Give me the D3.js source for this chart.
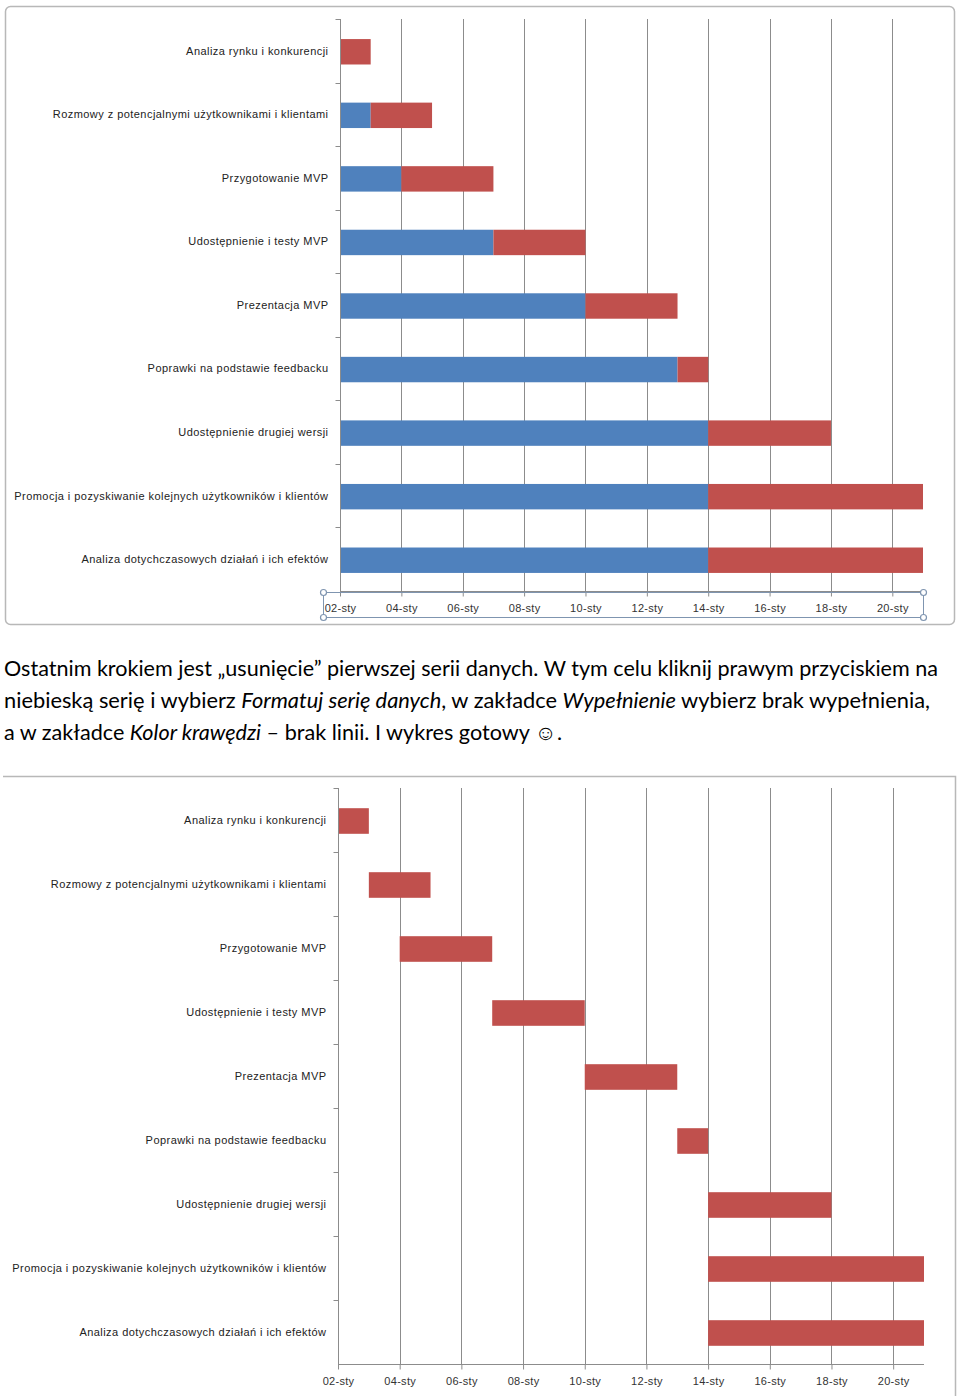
<!DOCTYPE html>
<html>
<head>
<meta charset="utf-8">
<script src="https://cdn.jsdelivr.net/npm/d3@7"></script>
<style>
  html, body { margin: 0; padding: 0; background: #fff; }
  svg { display: block; }
</style>
</head>
<body>
<svg id="page" width="960" height="1396"></svg>
<script>
// ---------------- DATA ----------------
const tasks = [
  "Analiza rynku i konkurencji",
  "Rozmowy z potencjalnymi użytkownikami i klientami",
  "Przygotowanie MVP",
  "Udostępnienie i testy MVP",
  "Prezentacja MVP",
  "Poprawki na podstawie feedbacku",
  "Udostępnienie drugiej wersji",
  "Promocja i pozyskiwanie kolejnych użytkowników i klientów",
  "Analiza dotychczasowych działań i ich efektów"
];
const startDates = ["2013-01-02","2013-01-03","2013-01-04","2013-01-07","2013-01-10","2013-01-13","2013-01-14","2013-01-14","2013-01-14"];
const durations = [1, 2, 3, 3, 3, 1, 4, 7, 7];
const axisRange = ["2013-01-02", "2013-01-21"];
const tickDates = ["2013-01-02","2013-01-04","2013-01-06","2013-01-08","2013-01-10","2013-01-12","2013-01-14","2013-01-16","2013-01-18","2013-01-20"];
const seriesColors = { start: "#4F81BD", duration: "#C0504D" };

const paragraphLines = [
  [["Ostatnim krokiem jest „usunięcie” pierwszej serii danych. W tym celu kliknij prawym przyciskiem na", false]],
  [["niebieską serię i wybierz ", false], ["Formatuj serię danych", true], [", w zakładce ", false], ["Wypełnienie", true], [" wybierz brak wypełnienia,", false]],
  [["a w zakładce ", false], ["Kolor krawędzi", true], [" – brak linii. I wykres gotowy ☺.", false]]
];
const paragraphWidths = [934, 926, 558];

// ---------------- HELPERS ----------------
const parse = d3.utcParse("%Y-%m-%d");
const pl = d3.timeFormatLocale({
  dateTime: "%A, %e %B %Y, %X", date: "%d.%m.%Y", time: "%H:%M:%S",
  periods: ["AM","PM"],
  days: ["niedziela","poniedziałek","wtorek","środa","czwartek","piątek","sobota"],
  shortDays: ["niedz.","pon.","wt.","śr.","czw.","pt.","sob."],
  months: ["styczeń","luty","marzec","kwiecień","maj","czerwiec","lipiec","sierpień","wrzesień","październik","listopad","grudzień"],
  shortMonths: ["sty","lut","mar","kwi","maj","cze","lip","sie","wrz","paź","lis","gru"]
});
const fmt = pl.utcFormat("%d-%b");

const rows = tasks.map((t, i) => {
  const s = parse(startDates[i]);
  return { task: t, origin: parse(axisRange[0]), start: s, end: d3.utcDay.offset(s, durations[i]) };
});

const svg = d3.select("#page");
const FONT = "'Liberation Sans', Arial, sans-serif";

function drawChart(opts) {
  const g = svg.append("g");
  const x = d3.scaleUtc().domain(axisRange.map(parse)).range([opts.x0, opts.x1]);
  const y = d3.scaleBand().domain(tasks).range([opts.y0, opts.y1]).paddingInner(0.6).paddingOuter(0.3);
  const yb = d3.scaleBand().domain(tasks).range([opts.y0, opts.y1]);

  // gridlines
  g.append("g").selectAll("line").data(tickDates.map(parse).slice(1)).join("line")
    .attr("x1", d => Math.round(x(d)) + 0.5).attr("x2", d => Math.round(x(d)) + 0.5)
    .attr("y1", opts.y0).attr("y2", opts.y1)
    .attr("stroke", "#8c8c8c").attr("stroke-width", 1);

  // bars
  if (opts.showStart) {
    g.append("g").selectAll("rect").data(rows).join("rect")
      .attr("x", d => x(d.origin)).attr("width", d => x(d.start) - x(d.origin))
      .attr("y", d => y(d.task) + 1).attr("height", y.bandwidth())
      .attr("fill", seriesColors.start);
  }
  g.append("g").selectAll("rect").data(rows).join("rect")
    .attr("x", d => x(d.start)).attr("width", d => x(d.end) - x(d.start))
    .attr("y", d => y(d.task) + 1).attr("height", y.bandwidth())
    .attr("fill", seriesColors.duration);

  // x axis
  const xAxis = d3.axisBottom(x).tickValues(tickDates.map(parse)).tickFormat(fmt).tickSize(5).tickPadding(8);
  const xa = g.append("g").attr("transform", `translate(0,${opts.y1 + 0.5})`).call(xAxis);
  xa.select(".domain").attr("stroke", "#8c8c8c").attr("d", `M${opts.x0},0H${opts.x1}`);
  xa.selectAll(".tick line").attr("stroke", "#8c8c8c");
  xa.selectAll(".tick text").attr("font-family", FONT).attr("font-size", 11)
    .attr("letter-spacing", "0.3px").attr("fill", "#333");

  // y axis (category)
  const ya = g.append("g").attr("transform", `translate(${opts.x0 + 0.5},0)`);
  ya.append("line").attr("x1", 0).attr("x2", 0).attr("y1", opts.y0).attr("y2", opts.y1).attr("stroke", "#8c8c8c");
  ya.selectAll("line.tk").data(tasks).join("line").attr("class", "tk")
    .attr("x1", -5).attr("x2", 0)
    .attr("y1", d => Math.round(yb(d)) + 0.5).attr("y2", d => Math.round(yb(d)) + 0.5)
    .attr("stroke", "#8c8c8c");
  ya.selectAll("text").data(tasks).join("text")
    .attr("x", -12).attr("y", d => yb(d) + yb.bandwidth() / 2)
    .attr("dy", "0.35em").attr("text-anchor", "end")
    .attr("font-family", FONT).attr("font-size", 11).attr("letter-spacing", "0.45px").attr("fill", "#222")
    .text(d => d);

  return g;
}

// top chart frame
svg.append("rect").attr("x", 5.5).attr("y", 6.5).attr("width", 949).attr("height", 618).attr("rx", 5)
  .attr("fill", "#fff").attr("stroke", "#b8b8b8").attr("stroke-width", 1.5);

drawChart({ x0: 340, x1: 923, y0: 19, y1: 591, showStart: true });

// axis selection box (top chart)
const sel = svg.append("g");
sel.append("rect").attr("x", 323.5).attr("y", 592.5).attr("width", 600).attr("height", 25)
  .attr("fill", "none").attr("stroke", "#7f95b0").attr("stroke-width", 1);
[[323.5,592.5],[323.5,617.5],[923.5,592.5],[923.5,617.5]].forEach(p => {
  sel.append("circle").attr("cx", p[0]).attr("cy", p[1]).attr("r", 3)
    .attr("fill", "#fff").attr("stroke", "#7f95b0").attr("stroke-width", 1.2);
});

// paragraph
const para = svg.append("g");
paragraphLines.forEach((line, i) => {
  const t = para.append("text").attr("x", 4).attr("y", 676 + i * 32)
    .attr("font-family", "Lato, 'Open Sans', sans-serif").attr("font-size", 21).attr("fill", "#000");
  line.forEach(([s, it]) => {
    t.append("tspan").attr("font-style", it ? "italic" : "normal").text(s);
  });
  t.attr("textLength", paragraphWidths[i]).attr("lengthAdjust", "spacingAndGlyphs");
});

// bottom chart frame (cropped)
svg.append("path").attr("d", "M3,776.5H955.5V1396").attr("fill", "none").attr("stroke", "#b8b8b8").attr("stroke-width", 1.5);

drawChart({ x0: 338, x1: 924, y0: 788, y1: 1364, showStart: false });
</script>
</body>
</html>
